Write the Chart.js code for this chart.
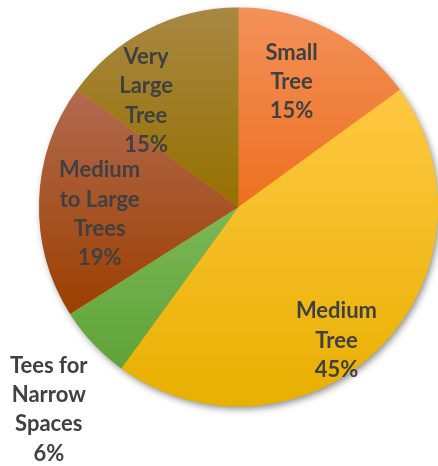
<!DOCTYPE html>
<html>
<head>
<meta charset="utf-8">
<script src="https://cdn.jsdelivr.net/npm/chart.js@4/dist/chart.umd.min.js"></script>
<style>
  html, body { margin: 0; padding: 0; background: #ffffff; }
  #wrap { width: 438px; height: 466px; position: relative; }
</style>
</head>
<body>
<div id="wrap"><canvas id="c"></canvas></div>
<script>
// ---- data ----
const categories = ["Small Tree", "Medium Tree", "Tees for Narrow Spaces", "Medium to Large Trees", "Very Large Tree"];
const labelLines = [["Small", "Tree"], ["Medium", "Tree"], ["Tees for", "Narrow", "Spaces"], ["Medium", "to Large", "Trees"], ["Very", "Large", "Tree"]];
const values = [15, 45, 6, 19, 15];

// ---- styles ----
const topColors    = ["#F2915A", "#FFC843", "#7BB857", "#B26A50", "#A88843"];
const bottomColors = ["#EE7020", "#E8B000", "#5FA338", "#9C3F00", "#957000"];
// label block centres, as offsets from the pie centre in units of the radius
const labelOffsets = [[0.266, -0.633], [0.491, 0.665], [-0.951, 1.011], [-0.696, 0.031], [-0.463, -0.537]];

const total = values.reduce((a, b) => a + b, 0);

function sliceYRange(arc) {
  const r = arc.outerRadius, cx = arc.x, cy = arc.y;
  let a0 = arc.startAngle, a1 = arc.endAngle;
  const ys = [cy, cy + r * Math.sin(a0), cy + r * Math.sin(a1)];
  // check extremes at PI/2 (bottom) and -PI/2 / 3PI/2 (top)
  const cands = [-Math.PI / 2, Math.PI / 2, 3 * Math.PI / 2, 5 * Math.PI / 2];
  cands.forEach(t => { if (t >= a0 && t <= a1) ys.push(cy + r * Math.sin(t)); });
  return [Math.min(...ys), Math.max(...ys)];
}

const gradientPlugin = {
  id: 'sliceGradients',
  beforeDatasetsDraw(chart) {
    const ctx = chart.ctx;
    const meta = chart.getDatasetMeta(0);
    meta.data.forEach((arc, i) => {
      const [y0, y1] = sliceYRange(arc);
      const g = ctx.createLinearGradient(0, y0, 0, y1);
      g.addColorStop(0, topColors[i]);
      g.addColorStop(1, bottomColors[i]);
      arc.options.backgroundColor = g;
    });
    // shadow under the whole pie
    const a = meta.data[0];
    if (a) {
      ctx.save();
      ctx.shadowColor = 'rgba(0,0,0,0.45)';
      ctx.shadowBlur = 7;
      ctx.shadowOffsetX = 2;
      ctx.shadowOffsetY = 3;
      ctx.beginPath();
      ctx.arc(a.x, a.y, a.outerRadius - 0.5, 0, Math.PI * 2);
      ctx.fillStyle = '#e0a000';
      ctx.fill();
      ctx.restore();
    }
  }
};

const labelPlugin = {
  id: 'sliceLabels',
  afterDatasetsDraw(chart) {
    const ctx = chart.ctx;
    const meta = chart.getDatasetMeta(0);
    ctx.save();
    ctx.font = 'bold 22px Lato';
    ctx.fillStyle = '#404040';
    ctx.textAlign = 'center';
    ctx.textBaseline = 'middle';
    const lh = 29.3;
    meta.data.forEach((arc, i) => {
      const pct = Math.round(values[i] / total * 100) + '%';
      const lines = labelLines[i].concat([pct]);
      const cx = arc.x + labelOffsets[i][0] * arc.outerRadius;
      const cy = arc.y + labelOffsets[i][1] * arc.outerRadius;
      const startY = cy - (lines.length - 1) * lh / 2;
      lines.forEach((t, k) => ctx.fillText(t, cx, startY + k * lh + 1));
    });
    ctx.restore();
  }
};

new Chart(document.getElementById('c'), {
  type: 'pie',
  data: {
    labels: categories,
    datasets: [{
      data: values,
      backgroundColor: bottomColors,
      borderWidth: 0,
      hoverOffset: 0
    }]
  },
  options: {
    responsive: true,
    maintainAspectRatio: false,
    animation: false,
    layout: { padding: { left: 39, right: 0, top: 7, bottom: 59 } },
    plugins: {
      legend: { display: false },
      tooltip: { enabled: false },
      title: { display: false }
    }
  },
  plugins: [gradientPlugin, labelPlugin]
});
</script>
</body>
</html>
